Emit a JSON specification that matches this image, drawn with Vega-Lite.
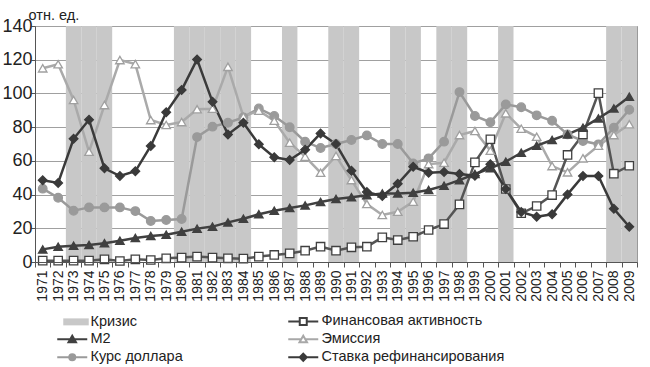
{
  "$schema": "https://vega.github.io/schema/vega-lite/v6.json",
  "width": 602,
  "height": 236,
  "autosize": "none",
  "padding": {"left": 35, "top": 26, "right": 13, "bottom": 105},
  "config": {
    "font": "Liberation Sans",
    "view": {"stroke": "#9a9a9a", "strokeWidth": 1},
    "background": "white",
    "axisY": {"labelOverlap": false}
  },
  "datasets": {
    "crisis": [
      {"year": "1973", "series": "Кризис"}, {"year": "1974", "series": "Кризис"}, {"year": "1975", "series": "Кризис"},
      {"year": "1980", "series": "Кризис"}, {"year": "1981", "series": "Кризис"}, {"year": "1982", "series": "Кризис"},
      {"year": "1983", "series": "Кризис"}, {"year": "1984", "series": "Кризис"}, {"year": "1987", "series": "Кризис"},
      {"year": "1990", "series": "Кризис"}, {"year": "1991", "series": "Кризис"}, {"year": "1994", "series": "Кризис"},
      {"year": "1995", "series": "Кризис"}, {"year": "1997", "series": "Кризис"}, {"year": "1998", "series": "Кризис"},
      {"year": "2001", "series": "Кризис"}, {"year": "2008", "series": "Кризис"}, {"year": "2009", "series": "Кризис"}
    ],
    "series": [
      {"year": "1971", "series": "Курс доллара", "value": 43.5},
      {"year": "1972", "series": "Курс доллара", "value": 38.1},
      {"year": "1973", "series": "Курс доллара", "value": 30.4},
      {"year": "1974", "series": "Курс доллара", "value": 32.4},
      {"year": "1975", "series": "Курс доллара", "value": 32.4},
      {"year": "1976", "series": "Курс доллара", "value": 32.4},
      {"year": "1977", "series": "Курс доллара", "value": 30.2},
      {"year": "1978", "series": "Курс доллара", "value": 24.3},
      {"year": "1979", "series": "Курс доллара", "value": 24.9},
      {"year": "1980", "series": "Курс доллара", "value": 25.5},
      {"year": "1981", "series": "Курс доллара", "value": 74.1},
      {"year": "1982", "series": "Курс доллара", "value": 80.3},
      {"year": "1983", "series": "Курс доллара", "value": 82.6},
      {"year": "1984", "series": "Курс доллара", "value": 85.8},
      {"year": "1985", "series": "Курс доллара", "value": 91.1},
      {"year": "1986", "series": "Курс доллара", "value": 86.6},
      {"year": "1987", "series": "Курс доллара", "value": 79.9},
      {"year": "1988", "series": "Курс доллара", "value": 71.4},
      {"year": "1989", "series": "Курс доллара", "value": 67.6},
      {"year": "1990", "series": "Курс доллара", "value": 70.0},
      {"year": "1991", "series": "Курс доллара", "value": 72.4},
      {"year": "1992", "series": "Курс доллара", "value": 75.1},
      {"year": "1993", "series": "Курс доллара", "value": 70.0},
      {"year": "1994", "series": "Курс доллара", "value": 70.0},
      {"year": "1995", "series": "Курс доллара", "value": 58.5},
      {"year": "1996", "series": "Курс доллара", "value": 61.5},
      {"year": "1997", "series": "Курс доллара", "value": 71.4},
      {"year": "1998", "series": "Курс доллара", "value": 100.8},
      {"year": "1999", "series": "Курс доллара", "value": 86.6},
      {"year": "2000", "series": "Курс доллара", "value": 82.9},
      {"year": "2001", "series": "Курс доллара", "value": 93.5},
      {"year": "2002", "series": "Курс доллара", "value": 91.8},
      {"year": "2003", "series": "Курс доллара", "value": 87.0},
      {"year": "2004", "series": "Курс доллара", "value": 83.8},
      {"year": "2005", "series": "Курс доллара", "value": 75.7},
      {"year": "2006", "series": "Курс доллара", "value": 71.8},
      {"year": "2007", "series": "Курс доллара", "value": 69.8},
      {"year": "2008", "series": "Курс доллара", "value": 79.7},
      {"year": "2009", "series": "Курс доллара", "value": 90.3},
      {"year": "1971", "series": "Эмиссия", "value": 114.9},
      {"year": "1972", "series": "Эмиссия", "value": 117.3},
      {"year": "1973", "series": "Эмиссия", "value": 96.1},
      {"year": "1974", "series": "Эмиссия", "value": 65.4},
      {"year": "1975", "series": "Эмиссия", "value": 93.1},
      {"year": "1976", "series": "Эмиссия", "value": 119.8},
      {"year": "1977", "series": "Эмиссия", "value": 117.4},
      {"year": "1978", "series": "Эмиссия", "value": 84.2},
      {"year": "1979", "series": "Эмиссия", "value": 81.3},
      {"year": "1980", "series": "Эмиссия", "value": 83.0},
      {"year": "1981", "series": "Эмиссия", "value": 90.6},
      {"year": "1982", "series": "Эмиссия", "value": 90.9},
      {"year": "1983", "series": "Эмиссия", "value": 115.8},
      {"year": "1984", "series": "Эмиссия", "value": 86.2},
      {"year": "1985", "series": "Эмиссия", "value": 89.8},
      {"year": "1986", "series": "Эмиссия", "value": 83.8},
      {"year": "1987", "series": "Эмиссия", "value": 70.8},
      {"year": "1988", "series": "Эмиссия", "value": 62.5},
      {"year": "1989", "series": "Эмиссия", "value": 53.0},
      {"year": "1990", "series": "Эмиссия", "value": 62.9},
      {"year": "1991", "series": "Эмиссия", "value": 48.6},
      {"year": "1992", "series": "Эмиссия", "value": 34.4},
      {"year": "1993", "series": "Эмиссия", "value": 27.9},
      {"year": "1994", "series": "Эмиссия", "value": 29.8},
      {"year": "1995", "series": "Эмиссия", "value": 35.8},
      {"year": "1996", "series": "Эмиссия", "value": 58.1},
      {"year": "1997", "series": "Эмиссия", "value": 58.9},
      {"year": "1998", "series": "Эмиссия", "value": 75.3},
      {"year": "1999", "series": "Эмиссия", "value": 77.7},
      {"year": "2000", "series": "Эмиссия", "value": 66.0},
      {"year": "2001", "series": "Эмиссия", "value": 88.2},
      {"year": "2002", "series": "Эмиссия", "value": 79.1},
      {"year": "2003", "series": "Эмиссия", "value": 74.3},
      {"year": "2004", "series": "Эмиссия", "value": 56.9},
      {"year": "2005", "series": "Эмиссия", "value": 53.2},
      {"year": "2006", "series": "Эмиссия", "value": 61.5},
      {"year": "2007", "series": "Эмиссия", "value": 69.0},
      {"year": "2008", "series": "Эмиссия", "value": 75.3},
      {"year": "2009", "series": "Эмиссия", "value": 81.7},
      {"year": "1971", "series": "Финансовая активность", "value": 0.8},
      {"year": "1972", "series": "Финансовая активность", "value": 0.8},
      {"year": "1973", "series": "Финансовая активность", "value": 0.8},
      {"year": "1974", "series": "Финансовая активность", "value": 0.8},
      {"year": "1975", "series": "Финансовая активность", "value": 1.6},
      {"year": "1976", "series": "Финансовая активность", "value": 0.6},
      {"year": "1977", "series": "Финансовая активность", "value": 1.6},
      {"year": "1978", "series": "Финансовая активность", "value": 1.2},
      {"year": "1979", "series": "Финансовая активность", "value": 2.2},
      {"year": "1980", "series": "Финансовая активность", "value": 2.6},
      {"year": "1981", "series": "Финансовая активность", "value": 3.2},
      {"year": "1982", "series": "Финансовая активность", "value": 2.6},
      {"year": "1983", "series": "Финансовая активность", "value": 2.2},
      {"year": "1984", "series": "Финансовая активность", "value": 2.0},
      {"year": "1985", "series": "Финансовая активность", "value": 3.2},
      {"year": "1986", "series": "Финансовая активность", "value": 4.2},
      {"year": "1987", "series": "Финансовая активность", "value": 5.1},
      {"year": "1988", "series": "Финансовая активность", "value": 6.7},
      {"year": "1989", "series": "Финансовая активность", "value": 9.1},
      {"year": "1990", "series": "Финансовая активность", "value": 6.7},
      {"year": "1991", "series": "Финансовая активность", "value": 8.7},
      {"year": "1992", "series": "Финансовая активность", "value": 9.1},
      {"year": "1993", "series": "Финансовая активность", "value": 14.6},
      {"year": "1994", "series": "Финансовая активность", "value": 13.0},
      {"year": "1995", "series": "Финансовая активность", "value": 15.0},
      {"year": "1996", "series": "Финансовая активность", "value": 19.0},
      {"year": "1997", "series": "Финансовая активность", "value": 22.5},
      {"year": "1998", "series": "Финансовая активность", "value": 34.2},
      {"year": "1999", "series": "Финансовая активность", "value": 59.1},
      {"year": "2000", "series": "Финансовая активность", "value": 72.8},
      {"year": "2001", "series": "Финансовая активность", "value": 43.3},
      {"year": "2002", "series": "Финансовая активность", "value": 28.9},
      {"year": "2003", "series": "Финансовая активность", "value": 33.2},
      {"year": "2004", "series": "Финансовая активность", "value": 39.7},
      {"year": "2005", "series": "Финансовая активность", "value": 63.5},
      {"year": "2006", "series": "Финансовая активность", "value": 75.7},
      {"year": "2007", "series": "Финансовая активность", "value": 100.2},
      {"year": "2008", "series": "Финансовая активность", "value": 52.4},
      {"year": "2009", "series": "Финансовая активность", "value": 57.1},
      {"year": "1971", "series": "M2", "value": 7.5},
      {"year": "1972", "series": "M2", "value": 9.1},
      {"year": "1973", "series": "M2", "value": 9.7},
      {"year": "1974", "series": "M2", "value": 10.1},
      {"year": "1975", "series": "M2", "value": 11.1},
      {"year": "1976", "series": "M2", "value": 12.6},
      {"year": "1977", "series": "M2", "value": 14.2},
      {"year": "1978", "series": "M2", "value": 15.4},
      {"year": "1979", "series": "M2", "value": 16.2},
      {"year": "1980", "series": "M2", "value": 18.0},
      {"year": "1981", "series": "M2", "value": 19.8},
      {"year": "1982", "series": "M2", "value": 21.0},
      {"year": "1983", "series": "M2", "value": 23.5},
      {"year": "1984", "series": "M2", "value": 25.7},
      {"year": "1985", "series": "M2", "value": 28.3},
      {"year": "1986", "series": "M2", "value": 30.4},
      {"year": "1987", "series": "M2", "value": 32.0},
      {"year": "1988", "series": "M2", "value": 33.6},
      {"year": "1989", "series": "M2", "value": 35.6},
      {"year": "1990", "series": "M2", "value": 37.4},
      {"year": "1991", "series": "M2", "value": 38.4},
      {"year": "1992", "series": "M2", "value": 39.6},
      {"year": "1993", "series": "M2", "value": 40.7},
      {"year": "1994", "series": "M2", "value": 40.7},
      {"year": "1995", "series": "M2", "value": 41.1},
      {"year": "1996", "series": "M2", "value": 42.7},
      {"year": "1997", "series": "M2", "value": 45.3},
      {"year": "1998", "series": "M2", "value": 48.6},
      {"year": "1999", "series": "M2", "value": 52.2},
      {"year": "2000", "series": "M2", "value": 55.6},
      {"year": "2001", "series": "M2", "value": 59.5},
      {"year": "2002", "series": "M2", "value": 64.8},
      {"year": "2003", "series": "M2", "value": 69.0},
      {"year": "2004", "series": "M2", "value": 72.4},
      {"year": "2005", "series": "M2", "value": 75.7},
      {"year": "2006", "series": "M2", "value": 79.7},
      {"year": "2007", "series": "M2", "value": 85.2},
      {"year": "2008", "series": "M2", "value": 91.1},
      {"year": "2009", "series": "M2", "value": 98.0},
      {"year": "1971", "series": "Ставка рефинансирования", "value": 48.5},
      {"year": "1972", "series": "Ставка рефинансирования", "value": 46.9},
      {"year": "1973", "series": "Ставка рефинансирования", "value": 73.1},
      {"year": "1974", "series": "Ставка рефинансирования", "value": 84.4},
      {"year": "1975", "series": "Ставка рефинансирования", "value": 55.6},
      {"year": "1976", "series": "Ставка рефинансирования", "value": 51.0},
      {"year": "1977", "series": "Ставка рефинансирования", "value": 53.8},
      {"year": "1978", "series": "Ставка рефинансирования", "value": 68.8},
      {"year": "1979", "series": "Ставка рефинансирования", "value": 88.8},
      {"year": "1980", "series": "Ставка рефинансирования", "value": 102.0},
      {"year": "1981", "series": "Ставка рефинансирования", "value": 120.2},
      {"year": "1982", "series": "Ставка рефинансирования", "value": 95.0},
      {"year": "1983", "series": "Ставка рефинансирования", "value": 75.7},
      {"year": "1984", "series": "Ставка рефинансирования", "value": 82.6},
      {"year": "1985", "series": "Ставка рефинансирования", "value": 69.8},
      {"year": "1986", "series": "Ставка рефинансирования", "value": 62.1},
      {"year": "1987", "series": "Ставка рефинансирования", "value": 60.5},
      {"year": "1988", "series": "Ставка рефинансирования", "value": 66.6},
      {"year": "1989", "series": "Ставка рефинансирования", "value": 76.3},
      {"year": "1990", "series": "Ставка рефинансирования", "value": 70.0},
      {"year": "1991", "series": "Ставка рефинансирования", "value": 54.2},
      {"year": "1992", "series": "Ставка рефинансирования", "value": 41.5},
      {"year": "1993", "series": "Ставка рефинансирования", "value": 39.1},
      {"year": "1994", "series": "Ставка рефинансирования", "value": 46.4},
      {"year": "1995", "series": "Ставка рефинансирования", "value": 56.5},
      {"year": "1996", "series": "Ставка рефинансирования", "value": 53.0},
      {"year": "1997", "series": "Ставка рефинансирования", "value": 53.4},
      {"year": "1998", "series": "Ставка рефинансирования", "value": 52.2},
      {"year": "1999", "series": "Ставка рефинансирования", "value": 51.2},
      {"year": "2000", "series": "Ставка рефинансирования", "value": 58.0},
      {"year": "2001", "series": "Ставка рефинансирования", "value": 43.3},
      {"year": "2002", "series": "Ставка рефинансирования", "value": 29.7},
      {"year": "2003", "series": "Ставка рефинансирования", "value": 26.9},
      {"year": "2004", "series": "Ставка рефинансирования", "value": 28.3},
      {"year": "2005", "series": "Ставка рефинансирования", "value": 40.1},
      {"year": "2006", "series": "Ставка рефинансирования", "value": 51.0},
      {"year": "2007", "series": "Ставка рефинансирования", "value": 51.0},
      {"year": "2008", "series": "Ставка рефинансирования", "value": 31.6},
      {"year": "2009", "series": "Ставка рефинансирования", "value": 20.9}
    ]
  },
  "layer": [
    {
      "data": {"name": "crisis"},
      "mark": {"type": "rect", "fill": "#c8c8c8"},
      "encoding": {
        "x": {
          "field": "year", "type": "ordinal",
          "scale": {"type": "band", "paddingInner": 0, "paddingOuter": 0},
          "axis": {
            "title": null, "labelAngle": -90, "labelFontSize": 14, "labelColor": "#222",
            "tickBand": "extent", "tickSize": 5, "tickColor": "#555", "domainColor": "#555",
            "labelPadding": 3, "grid": false
          }
        }
      }
    },
    {
      "data": {"name": "series"},
      "mark": {"type": "line", "strokeWidth": 2.5},
      "encoding": {
        "x": {"field": "year", "type": "ordinal"},
        "y": {
          "field": "value", "type": "quantitative",
          "scale": {"domain": [0, 140], "nice": false},
          "axis": {
            "values": [0, 20, 40, 60, 80, 100, 120, 140], "tickCount": 12, "labelOverlap": false,
            "grid": true, "gridColor": "#a0a0a0", "gridWidth": 1,
            "domainColor": "#555", "tickColor": "#555", "tickSize": 4,
            "labelFontSize": 18, "labelColor": "#222", "labelPadding": -1,
            "title": "отн. ед.", "titleAngle": 0, "titleX": -7, "titleY": -11,
            "titleAlign": "left", "titleBaseline": "middle", "titleFontWeight": "normal",
            "titleFontSize": 14.5, "titleColor": "#222"
          }
        },
        "color": {
          "field": "series", "type": "nominal", "legend": null,
          "scale": {
            "domain": ["Финансовая активность", "M2", "Эмиссия", "Курс доллара", "Ставка рефинансирования"],
            "range": ["#555555", "#404040", "#aaaaaa", "#9a9a9a", "#3a3a3a"]
          }
        },
        "opacity": {
          "field": "series", "type": "nominal",
          "scale": {
            "domain": ["Кризис", "M2", "Курс доллара", "Финансовая активность", "Эмиссия", "Ставка рефинансирования"],
            "range": [1, 1, 1, 1, 1, 1]
          },
          "legend": {
            "orient": "none", "legendX": 30, "legendY": 288, "title": null,
            "columns": 2, "columnPadding": 101, "rowPadding": 2, "padding": 0,
            "symbolSize": 100, "labelOffset": 11, "labelFontSize": 14.5, "labelColor": "#222", "labelLimit": 400,
            "symbolType": {"expr": "datum.value === 'Кризис' ? 'M-1.8,-0.7H3.3V0.7H-1.8Z' : datum.value === 'Финансовая активность' ? 'M-3,0H-0.7M0.7,0H3M-0.7,-0.7H0.7V0.7H-0.7Z' : datum.value === 'M2' ? 'M-3,0H3M-0.75,0.6L0,-0.7L0.75,0.6Z' : datum.value === 'Эмиссия' ? 'M-3,0H-0.45M0.45,0H3M-0.75,0.6L0,-0.7L0.75,0.6Z' : datum.value === 'Курс доллара' ? 'M-3,0H3M-0.6,0A0.6,0.6 0 1,0 0.6,0A0.6,0.6 0 1,0 -0.6,0Z' : 'M-3,0H3M0,-0.7L0.7,0L0,0.7L-0.7,0Z'"},
            "symbolFillColor": {"expr": "datum.value === 'Кризис' ? '#c8c8c8' : datum.value === 'Финансовая активность' ? 'white' : datum.value === 'M2' ? '#404040' : datum.value === 'Эмиссия' ? 'white' : datum.value === 'Курс доллара' ? '#9a9a9a' : '#3a3a3a'"},
            "symbolStrokeColor": {"expr": "datum.value === 'Кризис' ? 'transparent' : datum.value === 'Финансовая активность' ? '#404040' : datum.value === 'M2' ? '#404040' : datum.value === 'Эмиссия' ? '#a8a8a8' : datum.value === 'Курс доллара' ? '#9a9a9a' : '#3a3a3a'"},
            "symbolStrokeWidth": {"expr": "datum.value === 'Кризис' ? 0 : 2"}
          }
        }
      }
    },
    {
      "data": {"name": "series"},
      "mark": {"type": "point", "filled": true, "strokeWidth": 1.3, "opacity": 1},
      "encoding": {
        "x": {"field": "year", "type": "ordinal"},
        "y": {"field": "value", "type": "quantitative"},
        "shape": {
          "field": "series", "type": "nominal", "legend": null,
          "scale": {
            "domain": ["Финансовая активность", "M2", "Эмиссия", "Курс доллара", "Ставка рефинансирования"],
            "range": ["square", "triangle-up", "triangle-up", "circle", "diamond"]
          }
        },
        "fill": {
          "field": "series", "type": "nominal", "legend": null,
          "scale": {
            "domain": ["Финансовая активность", "M2", "Эмиссия", "Курс доллара", "Ставка рефинансирования"],
            "range": ["#ffffff", "#404040", "#ffffff", "#9a9a9a", "#3a3a3a"]
          }
        },
        "stroke": {
          "field": "series", "type": "nominal", "legend": null,
          "scale": {
            "domain": ["Финансовая активность", "M2", "Эмиссия", "Курс доллара", "Ставка рефинансирования"],
            "range": ["#404040", "#404040", "#a0a0a0", "#9a9a9a", "#3a3a3a"]
          }
        },
        "size": {
          "field": "series", "type": "nominal", "legend": null,
          "scale": {
            "domain": ["Финансовая активность", "M2", "Эмиссия", "Курс доллара", "Ставка рефинансирования"],
            "range": [70, 75, 75, 65, 70]
          }
        }
      }
    }
  ]
}
